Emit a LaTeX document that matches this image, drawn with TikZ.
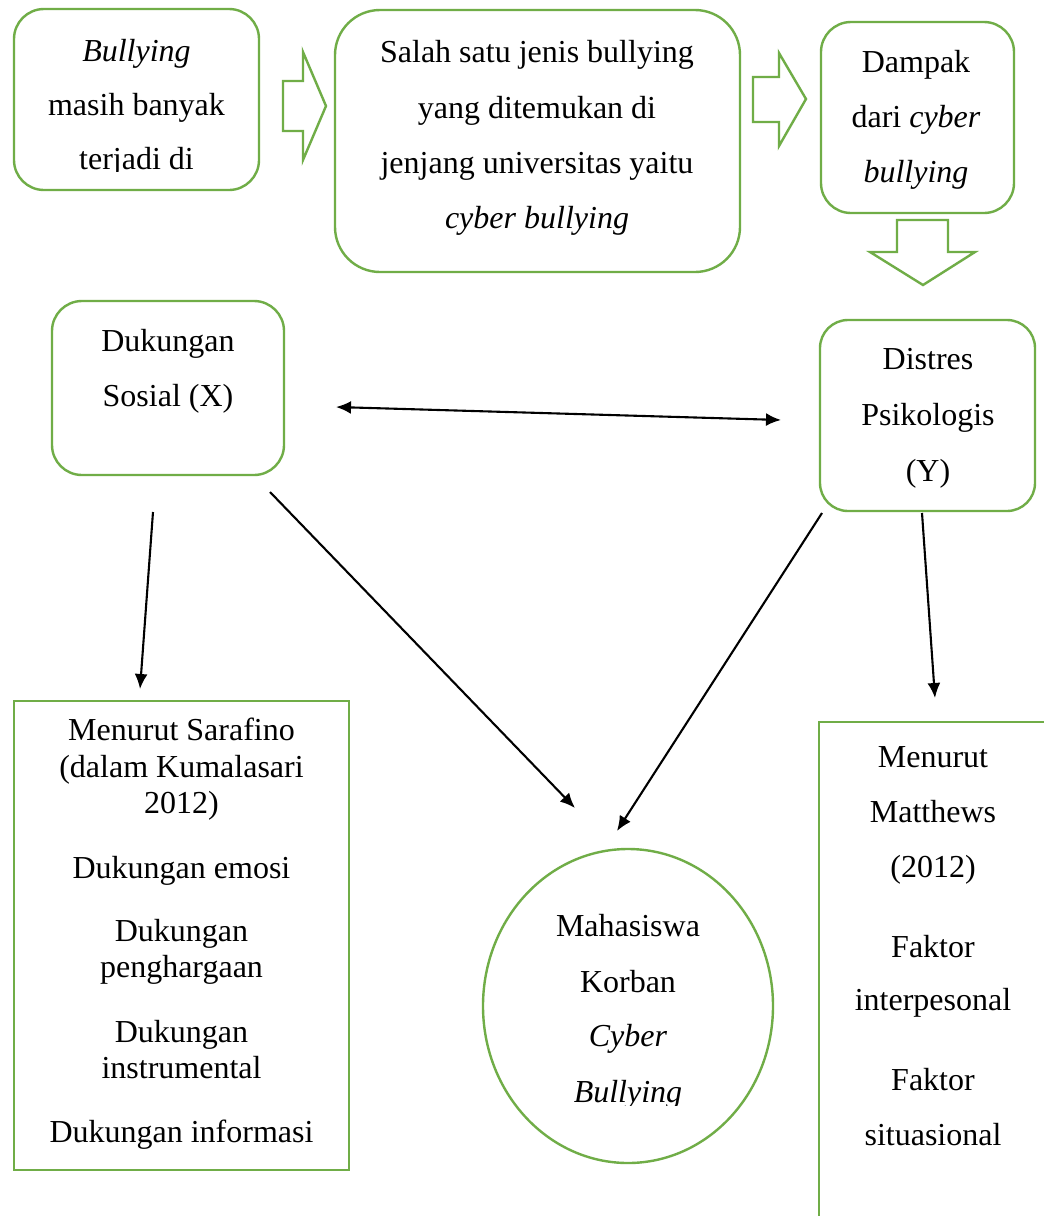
\documentclass[tikz,border=0pt]{standalone}
\usepackage{fontspec}
\setmainfont{Liberation Serif}
\usetikzlibrary{arrows.meta,shapes.geometric}
\definecolor{ogreen}{RGB}{112,173,71}
\tikzset{
  gbox/.style={draw=ogreen, line width=2.4pt, rounded corners=#1},
  gbox/.default=30pt,
  sqbox/.style={draw=ogreen, line width=2.4pt},
  blockarrow/.style={draw=ogreen, line width=2.4pt, line join=miter, fill=white},
  conn/.style={line width=2.1pt, -{Latex[length=15pt,width=13pt]}},
  dconn/.style={line width=2.1pt, {Latex[length=15pt,width=13pt]}-{Latex[length=15pt,width=13pt]}},
  txt/.style={anchor=base, inner sep=0pt, font=\fontsize{32}{38}\selectfont}
}
\begin{document}
\begin{tikzpicture}[x=1pt,y=-1pt]
\clip (0,0) rectangle (1044,1216);
\fill[white] (0,0) rectangle (1044,1216);

% ---------- boxes ----------
\node[gbox, minimum width=245pt, minimum height=181pt, inner sep=0pt] (b1) at (136.5,99.5) {};
\node[gbox=45pt, minimum width=405pt, minimum height=262pt, inner sep=0pt] (b2) at (537.5,141) {};
\node[gbox, minimum width=193pt, minimum height=191pt, inner sep=0pt] (b3) at (917.5,117.5) {};
\node[gbox, minimum width=232pt, minimum height=174pt, inner sep=0pt] (bx) at (168,388) {};
\node[gbox=28pt, minimum width=215pt, minimum height=191pt, inner sep=0pt] (by) at (927.5,415.5) {};
\node[sqbox, minimum width=335pt, minimum height=469pt, inner sep=0pt] (bl) at (181.5,935.5) {};
\node[sqbox, minimum width=241pt, minimum height=508pt, inner sep=0pt] (br) at (939.5,976) {};
\node[ellipse, draw=ogreen, line width=2.4pt, minimum width=290pt, minimum height=314pt, inner sep=0pt] (mc) at (628,1006) {};

% ---------- block arrows ----------
\draw[blockarrow] (283,81) -- (303,81) -- (303,52) -- (326,106) -- (303,160) -- (303,131) -- (283,131) -- cycle;
\draw[blockarrow] (753,77) -- (779,77) -- (779,53) -- (806,99) -- (779,146) -- (779,122) -- (753,122) -- cycle;
\draw[blockarrow] (897,220) -- (948,220) -- (948,252) -- (975,252) -- (923,285) -- (870,252) -- (897,252) -- cycle;

% ---------- texts ----------
\begin{scope}
\clip (14,9) rectangle (259,171);
\node[txt] (t1a) at (136.5,61) {\textit{Bullying}};
\node[txt] (t1b) at (136.5,115) {masih banyak};
\node[txt] (t1c) at (136.5,169) {terjadi di};
\end{scope}

\node[txt] (t2a) at (537,62) {Salah satu jenis bullying};
\node[txt] (t2b) at (537,118) {yang ditemukan di};
\node[txt] (t2c) at (537,173) {jenjang universitas yaitu};
\node[txt] (t2d) at (537,228) {\textit{cyber bullying}};

\node[txt] (t3a) at (916,72) {Dampak};
\node[txt] (t3b) at (916,127) {dari \textit{cyber}};
\node[txt] (t3c) at (916,182) {\textit{bullying}};

\node[txt] (txa) at (168,351) {Dukungan};
\node[txt] (txb) at (168,406) {Sosial (X)};

\node[txt] (tya) at (928,369) {Distres};
\node[txt] (tyb) at (928,425) {Psikologis};
\node[txt] (tyc) at (928,481) {(Y)};

\node[txt] (tla) at (181.5,740) {Menurut Sarafino};
\node[txt] (tlb) at (181.5,777) {(dalam Kumalasari};
\node[txt] (tlc) at (181.5,813) {2012)};
\node[txt] (tld) at (181.5,878) {Dukungan emosi};
\node[txt] (tle) at (181.5,941) {Dukungan};
\node[txt] (tlf) at (181.5,977) {penghargaan};
\node[txt] (tlg) at (181.5,1042) {Dukungan};
\node[txt] (tlh) at (181.5,1078) {instrumental};
\node[txt] (tli) at (181.5,1142) {Dukungan informasi};

\node[txt] (tra) at (933,767) {Menurut};
\node[txt] (trb) at (933,822) {Matthews};
\node[txt] (trc) at (933,877) {(2012)};
\node[txt] (trd) at (933,957) {Faktor};
\node[txt] (tre) at (933,1010) {interpesonal};
\node[txt] (trf) at (933,1090) {Faktor};
\node[txt] (trg) at (933,1145) {situasional};

\node[txt] (tma) at (628,936) {Mahasiswa};
\node[txt] (tmb) at (628,992) {Korban};
\node[txt] (tmc) at (628,1046) {\textit{Cyber}};
\begin{scope}
\clip (480,1060) rectangle (780,1105);
\node[txt] (tmd) at (628,1102) {\textit{Bullying}};
\end{scope}

% ---------- connectors ----------
\coordinate (dxl) at (336,407);
\coordinate (dyr) at (781,420);
\coordinate (x1s) at (153,512);
\coordinate (x1e) at (140,689);
\coordinate (x2s) at (270,492);
\coordinate (x2e) at (575,808);
\coordinate (y1s) at (822,513);
\coordinate (y1e) at (617,831);
\coordinate (y2s) at (922,513);
\coordinate (y2e) at (935,698);

\draw[dconn] (dxl) -- (dyr);
\draw[conn] (x1s) -- (x1e);
\draw[conn] (x2s) -- (x2e);
\draw[conn] (y1s) -- (y1e);
\draw[conn] (y2s) -- (y2e);
\end{tikzpicture}
\end{document}
